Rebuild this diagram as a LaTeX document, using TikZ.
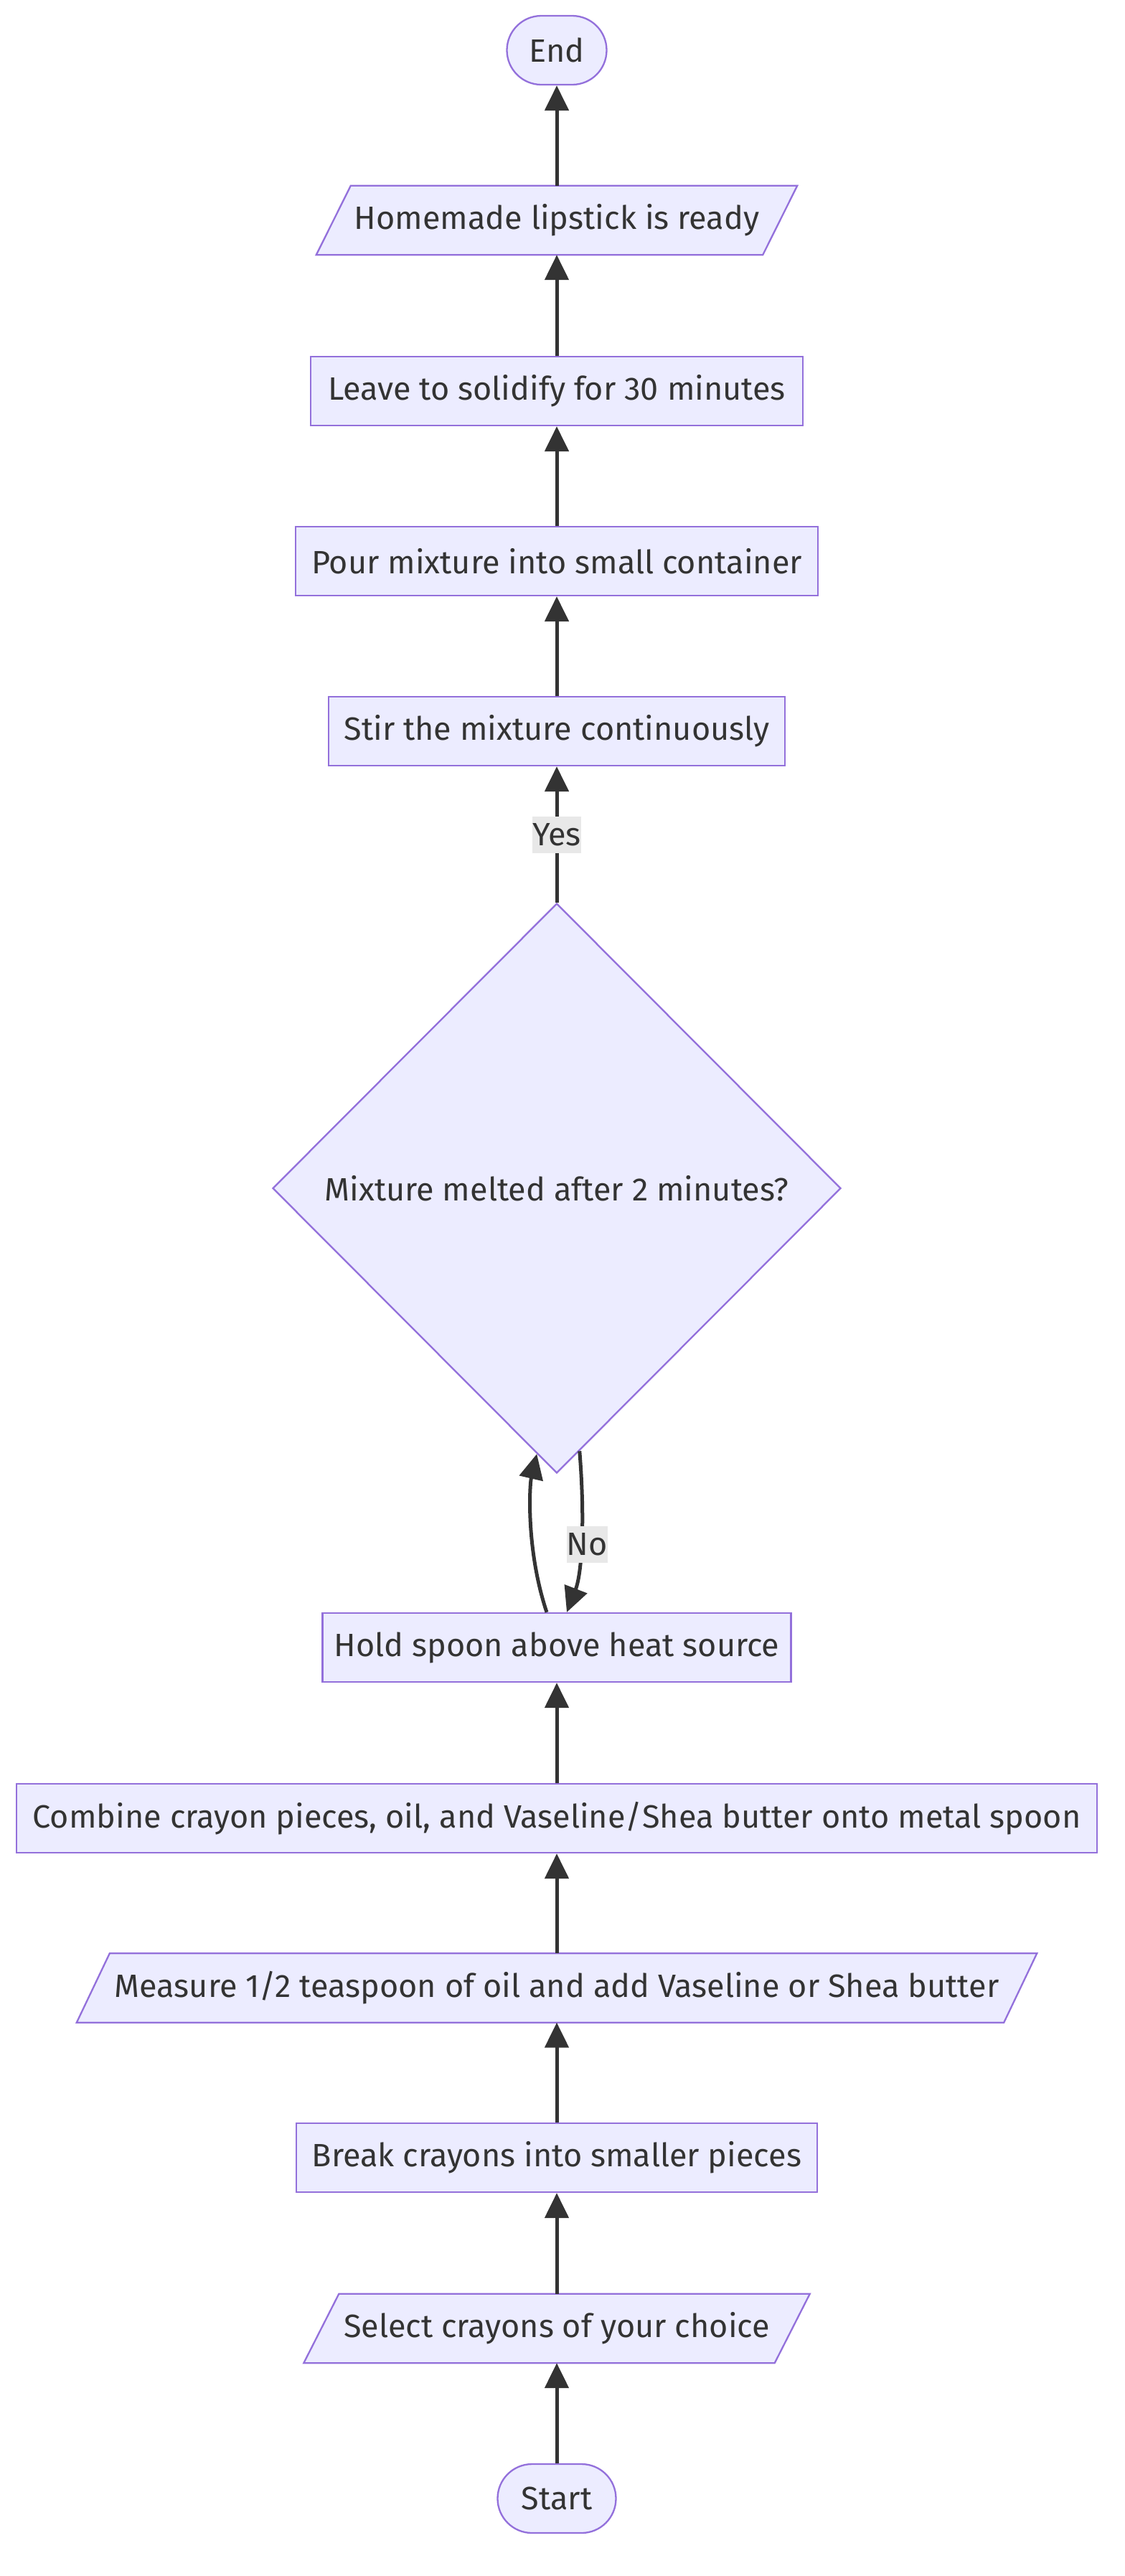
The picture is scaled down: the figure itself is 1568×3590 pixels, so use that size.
\documentclass[tikz,border=0pt]{standalone}
\usepackage{fontspec}
\setmainfont{Fira Sans}
\usetikzlibrary{shapes.geometric,arrows.meta,calc,backgrounds}
\definecolor{mfill}{HTML}{ECECFF}
\definecolor{mstroke}{HTML}{9370DB}
\definecolor{mline}{HTML}{333333}
\definecolor{mlab}{HTML}{E8E8E8}
\begin{document}
\begin{tikzpicture}[x=1pt,y=-1pt,
  font=\fontsize{45}{54}\selectfont, text=mline,
  box/.style={draw=mstroke, fill=mfill, line width=2.3pt, inner sep=0pt, minimum height=96pt},
  term/.style={box, rounded corners=48pt},
  io/.style={inner sep=0pt, minimum height=96pt},
  iodraw/.style={draw=mstroke, fill=mfill, line width=2.3pt},
  decision/.style={diamond, draw=mstroke, fill=mfill, line width=2.3pt, inner sep=0pt, minimum width=792pt, minimum height=794pt},
  edge/.style={draw=mline, line width=5pt, -{Triangle[length=35pt,width=33pt]}},
  elabel/.style={fill=mlab, inner sep=0pt, minimum height=51pt}]
\useasboundingbox (0,0) rectangle (1568,3590);

\node[term, minimum width=139pt] (end) at (776,70) {End};
\node[io, minimum width=670pt] (ready) at (776,307) {Homemade lipstick is ready};
\node[box, minimum width=686pt] (leave) at (776,545) {Leave to solidify for 30 minutes};
\node[box, minimum width=728pt] (pour) at (776,782) {Pour mixture into small container};
\node[box, minimum width=636pt] (stir) at (776,1019) {Stir the mixture continuously};
\node[decision] (dec) at (776,1656) {Mixture melted after 2 minutes?};
\node[box, minimum width=653pt] (hold) at (776,2296) {Hold spoon above heat source};
\node[box, minimum width=1506pt] (combine) at (776,2534) {Combine crayon pieces, oil, and Vaseline/Shea butter onto metal spoon};
\node[io, minimum width=1338pt] (measure) at (776,2770.5) {Measure 1/2 teaspoon of oil and add Vaseline or Shea butter};
\node[box, minimum width=726pt] (brk) at (776,3007) {Break crayons into smaller pieces};
\node[io, minimum width=705pt] (select) at (776,3245) {Select crayons of your choice};
\node[term, minimum width=165pt] (start) at (776,3482) {Start};

\begin{pgfonlayer}{background}
\fill[white] (0,0) rectangle (1568,3590);
\draw[iodraw] ([xshift=48pt]ready.north west) -- (ready.north east) -- ([xshift=-48pt]ready.south east) -- (ready.south west) -- cycle;
\draw[iodraw] ([xshift=46pt]measure.north west) -- (measure.north east) -- ([xshift=-46pt]measure.south east) -- (measure.south west) -- cycle;
\draw[iodraw] ([xshift=49pt]select.north west) -- (select.north east) -- ([xshift=-49pt]select.south east) -- (select.south west) -- cycle;
\end{pgfonlayer}

\draw[edge] (start) -- (select);
\draw[edge] (select) -- (brk);
\draw[edge] (brk) -- (measure);
\draw[edge] (measure) -- (combine);
\draw[edge] (combine) -- (hold);
\draw[edge] ([xshift=-14pt]hold.north) .. controls (733,2160) and (738,2070) .. ($(dec.south)!0.07!(dec.west)$);
\draw[edge] ($(dec.south)!0.08!(dec.east)$) .. controls (815,2110) and (812,2190) .. ([xshift=14pt]hold.north);
\draw[edge] (dec) -- (stir);
\draw[edge] (stir) -- (pour);
\draw[edge] (pour) -- (leave);
\draw[edge] (leave) -- (ready);
\draw[edge] (ready) -- (end);

\node[elabel, minimum width=62pt] (yes) at (776,1163) {Yes};
\node[elabel, minimum width=54pt] (no) at (818,2152) {No};
\end{tikzpicture}
\end{document}
